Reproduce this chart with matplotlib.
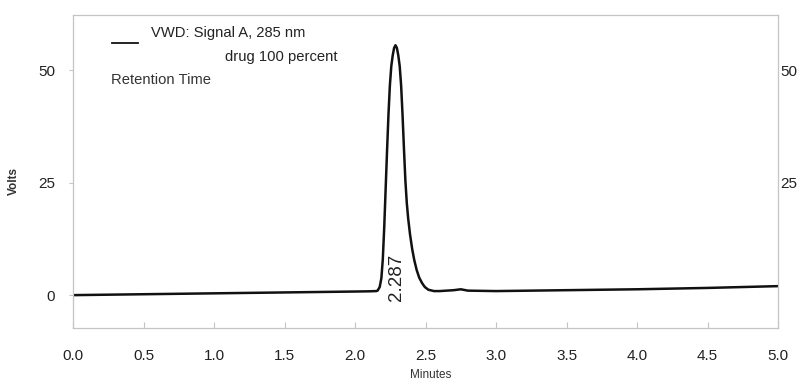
import matplotlib
matplotlib.use("Agg")
import matplotlib.pyplot as plt

plt.rcParams["font.family"] = ["Liberation Sans", "DejaVu Sans"]

# detector trace, minutes vs volts
time_min = [0.00, 0.50, 1.00, 1.50, 2.00, 2.10, 2.150, 2.160, 2.175, 2.187,
            2.197, 2.207, 2.217, 2.227, 2.237, 2.247, 2.257, 2.267, 2.277,
            2.287, 2.297, 2.307, 2.317, 2.327, 2.337, 2.347, 2.357, 2.367,
            2.377, 2.390, 2.405, 2.420, 2.437, 2.455, 2.475, 2.495, 2.520,
            2.56, 2.60, 2.70, 2.75, 2.80, 3.00, 3.50, 4.00, 4.50, 5.00]
signal_v = [0.0, 0.2, 0.4, 0.6, 0.8, 0.85, 0.9, 1.0, 1.8, 3.8,
            8.0, 15.0, 23.5, 32.0, 40.0, 46.5, 50.8, 53.2, 54.9,
            55.5, 54.9, 53.2, 50.8, 46.5, 40.0, 32.5, 25.5, 20.5,
            17.0, 13.5, 10.3, 7.8, 5.6, 3.9, 2.7, 1.8, 1.2,
            0.9, 0.9, 1.1, 1.3, 1.0, 0.9, 1.1, 1.3, 1.6, 2.0]

peak_rt = 2.287
x_ticks = [0.0, 0.5, 1.0, 1.5, 2.0, 2.5, 3.0, 3.5, 4.0, 4.5, 5.0]
y_ticks = [0, 25, 50]
y_ticks_right = [25, 50]

fig = plt.figure(figsize=(7.98, 3.83), dpi=100)
ax = fig.add_axes([0.0915, 0.1436, 0.8835, 0.817])

ax.plot(time_min, signal_v, color="#111111", linewidth=1.8)
ax.set_xlim(0.0, 5.0)
ax.set_ylim(-7.3, 62.2)

spine_col = "#c4c4c4"
for side in ("left", "right", "top", "bottom"):
    ax.spines[side].set_color(spine_col)
    ax.spines[side].set_linewidth(0.9)

ax.set_xticks(x_ticks)
ax.set_xticklabels([f"{v:.1f}" for v in x_ticks])
ax.set_yticks(y_ticks)
ax.tick_params(axis="x", direction="in", length=4, color=spine_col,
               labelsize=11, labelcolor="#222222", pad=15)
ax.tick_params(axis="y", direction="out", length=3, color=spine_col,
               labelsize=11, labelcolor="#222222", pad=10)

# right-hand scale only carries the upper two ticks
ax_r = ax.twinx()
ax_r.set_ylim(ax.get_ylim())
ax_r.set_yticks(y_ticks_right)
ax_r.tick_params(axis="y", direction="in", length=0, labelsize=11,
                 labelcolor="#222222", pad=1.5)
for side in ("left", "right", "top", "bottom"):
    ax_r.spines[side].set_visible(False)

ax.set_ylabel("Volts", fontsize=8.5, fontweight="bold", color="#333333")
ax.yaxis.set_label_coords(-0.075, 0.47)
ax.set_xlabel("Minutes", fontsize=8.5, color="#333333")
ax.xaxis.set_label_coords(0.508, -0.13)

# retention time annotation, rotated inside the peak base
ax.text(peak_rt + 0.005, -1.2, f"{peak_rt:.3f}", rotation=90, ha="center",
        va="bottom", fontsize=13.5, color="#222222")

# legend block in the upper left
ax.plot([0.28, 0.46], [56.0, 56.0], color="#111111", linewidth=1.3)
ax.text(0.55, 58.2, "VWD: Signal A, 285 nm", fontsize=10.6, color="#222222",
        va="center", ha="left")
ax.text(1.08, 52.9, "drug 100 percent", fontsize=10.6, color="#222222",
        va="center", ha="left")
ax.text(0.27, 47.8, "Retention Time", fontsize=10.6, color="#333333",
        va="center", ha="left")

fig.savefig("out.png", dpi=100)
